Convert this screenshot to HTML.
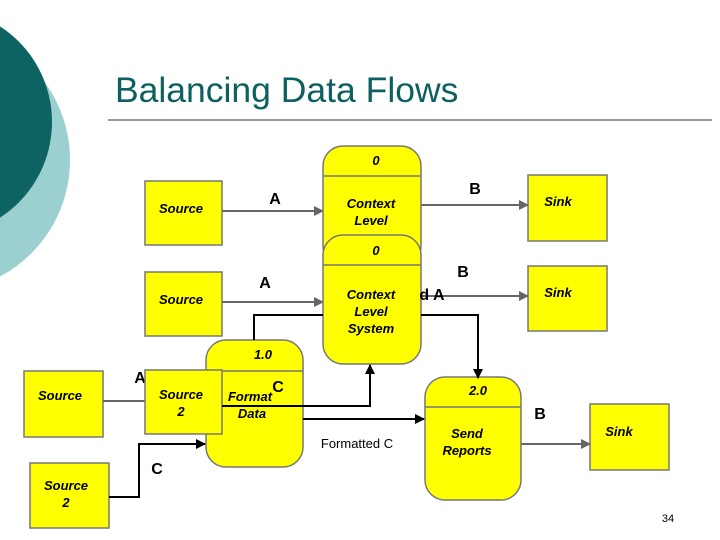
<!DOCTYPE html>
<html><head><meta charset="utf-8"><style>body{margin:0;background:#fff}svg{display:block}</style></head><body>
<svg width="720" height="540" viewBox="0 0 720 540" xmlns="http://www.w3.org/2000/svg" font-family="Liberation Sans, sans-serif">
<defs>
<marker id="ag" markerWidth="10" markerHeight="10" refX="9" refY="5" orient="auto" markerUnits="userSpaceOnUse"><path d="M0,0 L10,5 L0,10z" fill="#666"/></marker>
<marker id="ak" markerWidth="10" markerHeight="10" refX="9" refY="5" orient="auto" markerUnits="userSpaceOnUse"><path d="M0,0 L10,5 L0,10z" fill="#000"/></marker>
</defs>
<circle cx="-62" cy="160" r="132" fill="#9ccfcf"/>
<circle cx="-62" cy="122" r="114" fill="#0d6262"/>
<text x="115" y="102" font-size="35.5" fill="#0d6060">Balancing Data Flows</text>
<line x1="108" y1="120" x2="712" y2="120" stroke="#333" stroke-width="1"/>
<g stroke="#777" stroke-width="1.5" fill="#ffff00">
<rect x="145" y="181" width="77" height="64"/>
<rect x="528" y="175" width="79" height="66"/>
<rect x="145" y="272" width="77" height="64"/>
<rect x="528" y="266" width="79" height="65"/>
<rect x="24" y="371" width="79" height="66"/>
<rect x="590" y="404" width="79" height="66"/>
<rect x="30" y="463" width="79" height="65"/>
</g>
<g stroke="#666" stroke-width="2" fill="none">
<line x1="222" y1="211" x2="323" y2="211" marker-end="url(#ag)"/>
<line x1="421" y1="205" x2="528" y2="205" marker-end="url(#ag)"/>
<line x1="222" y1="302" x2="323" y2="302" marker-end="url(#ag)"/>
<line x1="421" y1="296" x2="528" y2="296" marker-end="url(#ag)"/>
<line x1="103" y1="401" x2="145" y2="401"/>
<line x1="521" y1="444" x2="590" y2="444" marker-end="url(#ag)"/>
</g>
<g stroke="#777" stroke-width="1.5" fill="#ffff00">
<rect x="323" y="146" width="98" height="120" rx="20"/>
<line x1="323" y1="176" x2="421" y2="176"/>
<rect x="323" y="235" width="98" height="129" rx="20"/>
<line x1="323" y1="265" x2="421" y2="265"/>
<rect x="206" y="340" width="97" height="127" rx="20"/>
<line x1="206" y1="371" x2="303" y2="371"/>
<rect x="425" y="377" width="96" height="123" rx="20"/>
<line x1="425" y1="407" x2="521" y2="407"/>
</g>
<text x="140" y="383" font-size="16" font-weight="bold" text-anchor="middle">A</text>
<rect x="145" y="370" width="77" height="64" stroke="#777" stroke-width="1.5" fill="#ffff00"/>
<g stroke="#000" stroke-width="2" fill="none">
<polyline points="254,340 254,315 323,315"/>
<polyline points="421,315 478,315 478,378" marker-end="url(#ak)"/>
<polyline points="222,406 370,406 370,365" marker-end="url(#ak)"/>
<line x1="303" y1="419" x2="424" y2="419" marker-end="url(#ak)"/>
<polyline points="109,497 139,497 139,444 205,444" marker-end="url(#ak)"/>
</g>
<g font-size="13" font-weight="bold" font-style="italic" fill="#000" text-anchor="middle">
<text x="376" y="165">0</text>
<text x="371" y="208">Context</text><text x="371" y="225">Level</text>
<text x="376" y="255">0</text>
<text x="371" y="299">Context</text><text x="371" y="316">Level</text><text x="371" y="333">System</text>
<text x="263" y="359">1.0</text>
<text x="250" y="401">Format</text><text x="252" y="418">Data</text>
<text x="478" y="395">2.0</text>
<text x="467" y="438">Send</text><text x="467" y="455">Reports</text>
<text x="181" y="213">Source</text><text x="181" y="304">Source</text>
<text x="60" y="400">Source</text>
<text x="181" y="399">Source</text><text x="181" y="416">2</text>
<text x="66" y="490">Source</text><text x="66" y="507">2</text>
<text x="558" y="206">Sink</text><text x="558" y="297">Sink</text><text x="619" y="436">Sink</text>
</g>
<g font-size="16" font-weight="bold" fill="#000" text-anchor="middle">
<text x="275" y="204">A</text><text x="475" y="194">B</text>
<text x="265" y="288">A</text><text x="463" y="277">B</text>
<text x="432" y="300">d A</text>
<text x="278" y="392">C</text>
<text x="540" y="419">B</text><text x="157" y="474">C</text>
</g>
<text x="357" y="448" font-size="13" fill="#000" text-anchor="middle">Formatted C</text>
<text x="668" y="522" font-size="11" fill="#000" text-anchor="middle">34</text>
</svg>
</body></html>
